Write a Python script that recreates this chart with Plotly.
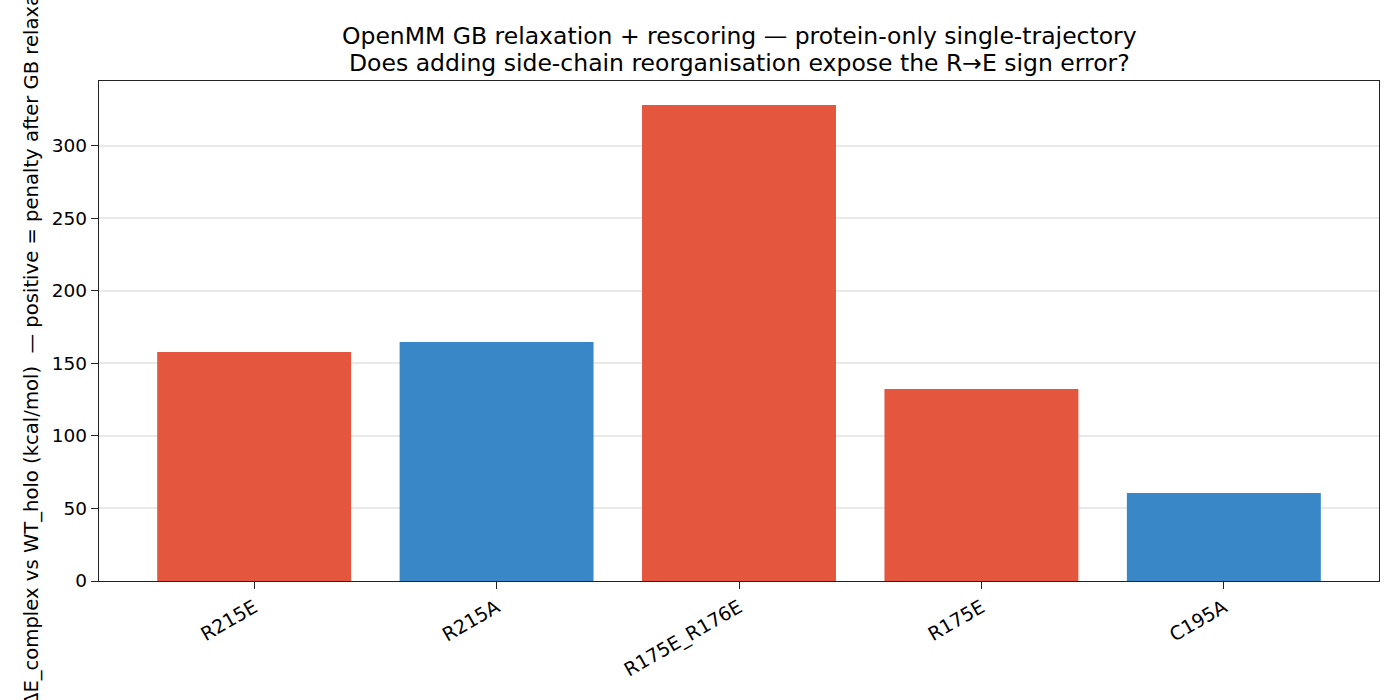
import plotly.graph_objects as go

categories = ["R215E", "R215A", "R175E_R176E", "R175E", "C195A"]
values = [157.9, 164.8, 328.3, 132.4, 60.7]
bar_colors = ["#e5563f", "#3a87c8", "#e5563f", "#e5563f", "#3a87c8"]
y_ticks = [0, 50, 100, 150, 200, 250, 300]

title_line1 = "OpenMM GB relaxation + rescoring — protein-only single-trajectory"
title_line2 = "Does adding side-chain reorganisation expose the R→E sign error?"
y_label = "ΔE_complex vs WT_holo (kcal/mol)  — positive = penalty after GB relaxation"

FONT = "DejaVu Sans"
L, R, T, B = 99, 21, 81, 119
W, H = 1400, 700
pw, ph = W - L - R, H - T - B

fig = go.Figure(go.Bar(
    x=list(range(len(categories))),
    y=values,
    width=0.8,
    marker=dict(color=bar_colors, line=dict(width=0)),
))

fig.update_layout(
    width=W, height=H,
    margin=dict(l=L, r=R, t=T, b=B),
    paper_bgcolor="white", plot_bgcolor="white",
    font=dict(family=FONT, size=18, color="black"),
    showlegend=False,
)
fig.update_xaxes(
    range=[-0.64, 4.64],
    tickmode="array", tickvals=list(range(len(categories))), ticktext=categories,
    tickangle=-30, ticks="outside", ticklen=7, tickwidth=1.3, tickcolor="#222",
    showline=True, linecolor="#222", linewidth=1.3, mirror=True,
    showgrid=False, zeroline=False,
    tickfont=dict(family=FONT, size=19),
)
fig.update_yaxes(
    range=[0, 344.8],
    tickmode="array", tickvals=y_ticks,
    ticks="outside", ticklen=7, tickwidth=1.3, tickcolor="#222",
    showline=True, linecolor="#222", linewidth=1.3, mirror=True,
    showgrid=True, gridcolor="rgba(200,200,200,0.4)", gridwidth=1.5,
    zeroline=False, layer="above traces",
    tickfont=dict(family=FONT, size=18.5),
)

fig.add_annotation(text=title_line1, xref="paper", yref="paper",
                   x=0.5, y=(H - 36 - B) / ph, xanchor="center", yanchor="middle",
                   showarrow=False, font=dict(family=FONT, size=23.5))
fig.add_annotation(text=title_line2, xref="paper", yref="paper",
                   x=0.5, y=(H - 63 - B) / ph, xanchor="center", yanchor="middle",
                   showarrow=False, font=dict(family=FONT, size=23.5))
fig.add_annotation(text=y_label, xref="paper", yref="paper",
                   x=(31 - L) / pw, y=0.5, xanchor="center", yanchor="middle",
                   textangle=-90, showarrow=False, font=dict(family=FONT, size=19.6))

fig.write_html("out.html")
